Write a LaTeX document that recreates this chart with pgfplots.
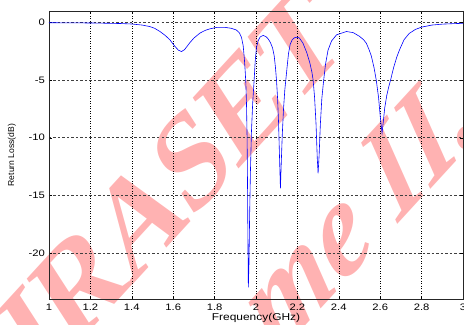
\documentclass[border=0pt]{standalone}
\usepackage{pgfplots}
\pgfplotsset{compat=1.18}
\usepackage{fontspec}
\setmainfont{Liberation Sans}
\newfontfamily\tickfont[FakeStretch=1.2]{Liberation Sans}
\newfontfamily\wmfont{Liberation Serif}
\definecolor{wmpink}{RGB}{255,178,178}
\definecolor{mblue}{RGB}{0,0,255}
\pgfplotstableread{
x y
1.00 -0.02
1.10 -0.03
1.20 -0.04
1.30 -0.07
1.35 -0.09
1.40 -0.13
1.45 -0.22
1.487 -0.35
1.51 -0.5
1.536 -0.78
1.56 -1.1
1.584 -1.5
1.605 -2.0
1.625 -2.4
1.64 -2.52
1.655 -2.35
1.68 -1.76
1.70 -1.35
1.729 -0.92
1.755 -0.68
1.777 -0.55
1.81 -0.42
1.85 -0.42
1.88 -0.5
1.905 -0.65
1.92 -0.9
1.93 -1.3
1.938 -2.0
1.944 -3.2
1.948 -4.3
1.951 -5.3
1.954 -7
1.957 -10
1.959 -14
1.961 -19
1.963 -23
1.966 -21
1.969 -17
1.973 -13
1.978 -9.5
1.984 -7
1.991 -5.0
1.996 -3.4
2.002 -2.2
2.01 -1.6
2.02 -1.25
2.035 -1.12
2.05 -1.25
2.06 -1.45
2.07 -1.75
2.08 -2.2
2.088 -2.9
2.094 -3.9
2.099 -5.0
2.104 -6.5
2.109 -8.7
2.113 -11.3
2.118 -14.4
2.122 -12.2
2.127 -9.7
2.133 -7.5
2.139 -5.9
2.144 -5.0
2.15 -3.9
2.157 -2.7
2.165 -1.9
2.175 -1.5
2.185 -1.33
2.198 -1.27
2.21 -1.35
2.227 -1.8
2.245 -2.6
2.26 -3.5
2.27 -4.3
2.276 -5.0
2.283 -6.5
2.29 -8.8
2.296 -11.8
2.300 -13.1
2.305 -11.5
2.311 -8.8
2.318 -6.6
2.327 -5.0
2.336 -3.6
2.348 -2.4
2.365 -1.6
2.389 -1.07
2.437 -0.78
2.47 -0.88
2.50 -1.2
2.52 -1.5
2.533 -1.8
2.545 -2.3
2.557 -2.9
2.57 -3.9
2.581 -5.0
2.592 -6.5
2.601 -8.3
2.609 -9.6
2.615 -8.6
2.622 -7.4
2.632 -6.3
2.641 -5.6
2.65 -5.0
2.665 -3.9
2.68 -3.0
2.695 -2.3
2.715 -1.5
2.74 -0.95
2.77 -0.6
2.80 -0.4
2.85 -0.22
2.90 -0.14
2.95 -0.1
3.00 -0.07
}\rldata
\begin{document}
\begin{tikzpicture}
% watermark
\begin{scope}[yscale=1.3]
\node[transform shape, text=wmpink, rotate=40, anchor=center, inner sep=0pt]
  at (101bp,72bp) {\wmfont\bfseries\fontsize{109}{109}\selectfont IJRASET};
\node[transform shape, text=wmpink, rotate=40, anchor=center, inner sep=0pt]
  at (309bp,69.2bp) {\wmfont\bfseries\itshape\fontsize{109}{109}\selectfont me II.};
\end{scope}
\begin{axis}[
  scale only axis,
  width=414bp, height=288bp,
  xmin=1, xmax=3, ymin=-24, ymax=1,
  xtick={1,1.2,1.4,1.6,1.8,2,2.2,2.4,2.6,2.8,3},
  ytick={-20,-15,-10,-5,0},
  /pgf/number format/assume math mode=true,
  tick label style={font=\tickfont\fontsize{9.4}{10}\selectfont},
  xticklabel style={anchor=north, inner sep=0pt, yshift=-4.5bp},
  yticklabel style={anchor=east, inner sep=0pt, xshift=-4bp},
  tick align=inside,
  major tick length=3bp,
  tick style={black, line width=0.4bp},
  axis line style={black!85, line width=0.6bp},
  grid=major,
  x grid style={black, line width=0.5bp, dash pattern=on 1bp off 1.5bp},
  y grid style={black!75, line width=0.5bp, dash pattern=on 2.5bp off 2bp},
  xlabel={Frequency(GHz)},
  ylabel={Return Loss(dB)},
  xlabel style={font=\tickfont\fontsize{10}{11}\selectfont, at={(axis description cs:0.5,-0.066)}, anchor=center, inner sep=0pt},
  ylabel style={font=\fontsize{8.6}{10}\selectfont, at={(axis description cs:-0.0894,0.5)}, anchor=center, inner sep=0pt},
]
\addplot[mblue, line width=0.6bp, no markers] table[x=x,y=y] {\rldata};
\end{axis}
\pgfresetboundingbox
\path[use as bounding box] (-49bp,-26bp) rectangle (415bp,299bp);
\end{tikzpicture}
\end{document}
